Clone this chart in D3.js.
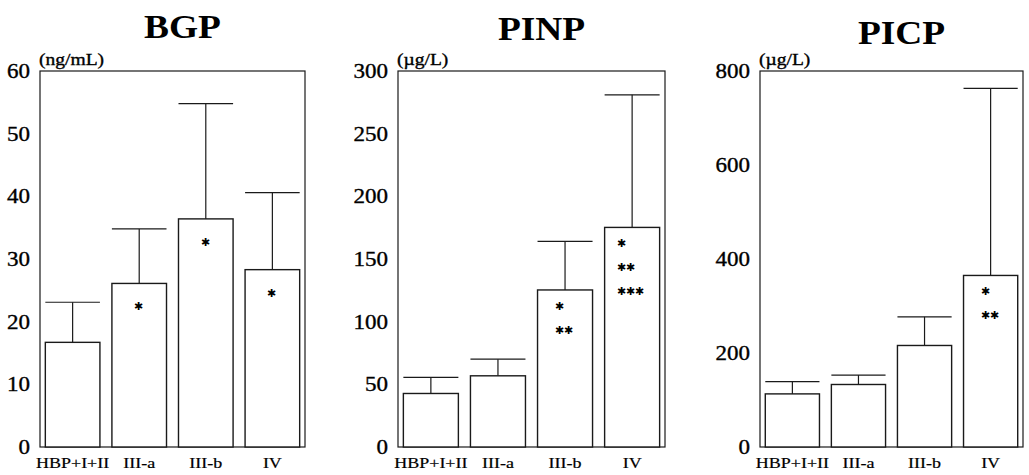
<!DOCTYPE html>
<html>
<head>
<meta charset="utf-8">
<script src="https://cdn.jsdelivr.net/npm/d3@7/dist/d3.min.js"></script>
<style>
  html, body { margin: 0; padding: 0; background: #fff; }
  svg { display: block; }
  text { font-family: "Liberation Serif", "Times New Roman", serif; fill: #000; }
</style>
</head>
<body>
<svg id="chart" width="1029" height="475"></svg>
<script>
// Groups shared by the three marker panels
const categories = ["HBP+I+II", "III-a", "III-b", "IV"];

// BGP (ng/mL): group means and upper SD
const bgpMean = [16.7, 26.1, 36.4, 28.3];
const bgpSD   = [6.4, 8.7, 18.4, 12.3];
const bgpTicks = [0, 10, 20, 30, 40, 50, 60];
const bgpSig  = [[], ["*"], ["*"], ["*"]];

// PINP (µg/L)
const pinpMean = [42.7, 56.8, 125.3, 175.2];
const pinpSD   = [12.8, 13.3, 38.7, 105.8];
const pinpTicks = [0, 50, 100, 150, 200, 250, 300];
const pinpSig  = [[], [], ["*", "**"], ["*", "**", "***"]];

// PICP (µg/L)
const picpMean = [113, 133, 216, 365];
const picpSD   = [26, 20, 61, 398];
const picpTicks = [0, 200, 400, 600, 800];
const picpSig  = [[], [], [], ["*", "**"]];

const panels = [
  { title: "BGP",  unit: "(ng/mL)", mean: bgpMean,  sd: bgpSD,  ticks: bgpTicks,  sig: bgpSig,
    left: 40,  right: 305,  titleY: 38 },
  { title: "PINP", unit: "(\u00b5g/L)", mean: pinpMean, sd: pinpSD, ticks: pinpTicks, sig: pinpSig,
    left: 398, right: 665,  titleY: 40 },
  { title: "PICP", unit: "(\u00b5g/L)", mean: picpMean, sd: picpSD, ticks: picpTicks, sig: picpSig,
    left: 760, right: 1023, titleY: 44 }
];

const plotTop = 71, plotBottom = 447;
const ink = "#1a1a1a";
const svg = d3.select("#chart");

panels.forEach(p => {
  const g = svg.append("g");
  const maxTick = p.ticks[p.ticks.length - 1];

  const x = d3.scaleBand()
    .domain(categories)
    .range([p.left, p.right])
    .paddingInner(0.18)
    .paddingOuter(0.08);
  const y = d3.scaleLinear().domain([0, maxTick]).range([plotBottom, plotTop]);

  // title (the set type is slightly wide, hence the horizontal stretch)
  const tx = (p.left + p.right) / 2 + 10;
  g.append("text")
    .attr("transform", `translate(${tx},${p.titleY}) scale(1.1,1)`)
    .attr("text-anchor", "middle")
    .attr("font-weight", "bold")
    .attr("font-size", 34)
    .text(p.title);

  // unit label above the frame
  g.append("text")
    .attr("transform", `translate(${p.left - 1},${plotTop - 6}) scale(1.15,1)`)
    .attr("font-size", 17)
    .attr("stroke", "#000").attr("stroke-width", 0.35)
    .text(p.unit);

  // y axis: labels only, no tick marks
  const yAxis = d3.axisLeft(y).tickValues(p.ticks).tickSize(0).tickPadding(0);
  const ya = g.append("g").attr("transform", `translate(${p.left - 10},0)`).call(yAxis);
  ya.select(".domain").remove();
  ya.selectAll("text")
    .attr("x", 0)
    .attr("transform", "scale(1.15,1)")
    .attr("font-family", "Liberation Serif, serif")
    .attr("font-size", 20)
    .attr("fill", "#000")
    .attr("stroke", "#000").attr("stroke-width", 0.35);

  // x axis category labels
  const xAxis = d3.axisBottom(x).tickSize(0).tickPadding(10);
  const xa = g.append("g").attr("transform", `translate(0,${plotBottom})`).call(xAxis);
  xa.select(".domain").remove();
  xa.selectAll("text")
    .attr("transform", "scale(1.2,1)")
    .attr("font-family", "Liberation Serif, serif")
    .attr("font-size", 15)
    .attr("fill", "#000")
    .attr("stroke", "#000").attr("stroke-width", 0.2);

  // frame
  g.append("rect")
    .attr("x", p.left).attr("y", plotTop)
    .attr("width", p.right - p.left).attr("height", plotBottom - plotTop)
    .attr("fill", "none").attr("stroke", ink).attr("stroke-width", 1.2);

  const rows = categories.map((c, i) => ({ c, m: p.mean[i], sd: p.sd[i], sig: p.sig[i] }));

  // error bars (upper only): whisker and cap as wide as the bar
  const eb = g.selectAll(".err").data(rows).join("g").attr("class", "err");
  eb.append("line")
    .attr("x1", d => x(d.c) + x.bandwidth() / 2)
    .attr("x2", d => x(d.c) + x.bandwidth() / 2)
    .attr("y1", d => y(d.m))
    .attr("y2", d => y(d.m + d.sd))
    .attr("stroke", ink).attr("stroke-width", 1.2);
  eb.append("line")
    .attr("x1", d => x(d.c))
    .attr("x2", d => x(d.c) + x.bandwidth())
    .attr("y1", d => y(d.m + d.sd))
    .attr("y2", d => y(d.m + d.sd))
    .attr("stroke", ink).attr("stroke-width", 1.2);

  // bars
  g.selectAll(".bar").data(rows).join("rect")
    .attr("class", "bar")
    .attr("x", d => x(d.c))
    .attr("y", d => y(d.m))
    .attr("width", x.bandwidth())
    .attr("height", d => plotBottom - y(d.m))
    .attr("fill", "#fff")
    .attr("stroke", ink).attr("stroke-width", 1.4);

  // significance marks: rows left-aligned, the longest row centred on the bar
  rows.forEach(d => {
    if (!d.sig.length) return;
    const starW = 10;
    const longest = d3.max(d.sig, s => s.length);
    const cx = x(d.c) + x.bandwidth() / 2;
    const x0 = cx - longest * starW / 2;
    const first = d.sig.length === 1 ? 23 : 16;
    d.sig.forEach((s, k) => {
      g.append("text")
        .attr("x", x0)
        .attr("y", y(d.m) + first + k * 24)
        .attr("dy", "0.35em")
        .attr("font-family", "DejaVu Sans, sans-serif")
        .attr("font-size", 11)
        .text(s.replace(/\*/g, "\u2731"));
    });
  });
});
</script>
</body>
</html>
